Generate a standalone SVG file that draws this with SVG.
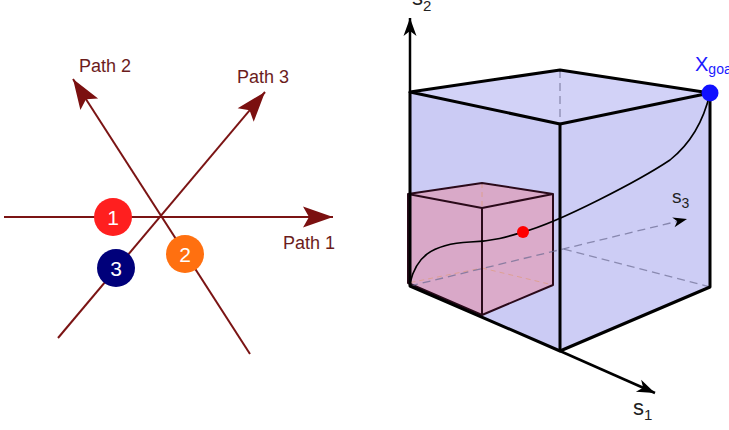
<svg xmlns="http://www.w3.org/2000/svg" width="729" height="430" viewBox="0 0 729 430">
<style>
.path{stroke:#7b1414;stroke-width:2;fill:none}
.plabel{font-family:"Liberation Sans",Arial,sans-serif;font-size:18px;fill:#6b1c1c}
.num{font-family:"Liberation Sans",Arial,sans-serif;font-size:21px;fill:#ffffff;text-anchor:middle}
.axis{stroke:#000;stroke-width:2.5;fill:none}
.edge{stroke:#000;stroke-width:3;fill:none;stroke-linejoin:round}
.pedge{stroke:#2a0a1a;stroke-width:2;fill:none;stroke-linejoin:round}
.hidden{stroke:#8a8ab0;stroke-width:1.3;stroke-dasharray:8 5;fill:none}
.phidden{stroke:#e09a70;stroke-width:1;stroke-dasharray:5 4;fill:none;opacity:0.6}
.slabel{font-family:"Liberation Sans",Arial,sans-serif;fill:#222}
</style>
<defs>
<marker id="redArrow" markerUnits="userSpaceOnUse" orient="auto" overflow="visible" markerWidth="30" markerHeight="22" refX="0" refY="0">
<path d="M0,0 L-30,-10.5 L-24,0 L-30,10.5 Z" fill="#7b1010"/>
</marker>
<marker id="blackArrow" markerUnits="userSpaceOnUse" orient="auto" overflow="visible" markerWidth="18" markerHeight="14" refX="0" refY="0">
<path d="M0,0 L-18,-6.5 L-13,0 L-18,6.5 Z" fill="#000"/>
</marker>
<marker id="smallArrow" markerUnits="userSpaceOnUse" orient="auto" overflow="visible" markerWidth="14" markerHeight="10" refX="0" refY="0">
<path d="M0,0 L-14,-5 L-10,0 L-14,5 Z" fill="#000"/>
</marker>
</defs>

<g id="connectors">
<line class="path" x1="4" y1="217" x2="333" y2="217" marker-end="url(#redArrow)"/>
<line class="path" x1="250" y1="354" x2="73" y2="79" marker-end="url(#redArrow)"/>
<line class="path" x1="58" y1="338" x2="265" y2="92" marker-end="url(#redArrow)"/>
</g>

<g id="label-path1"><text class="plabel" x="283" y="249">Path 1</text></g>
<g id="label-path2"><text class="plabel" x="79" y="72">Path 2</text></g>
<g id="label-path3"><text class="plabel" x="237" y="83">Path 3</text></g>

<g id="node-1"><circle cx="113" cy="217" r="19" fill="#ff1f1f"/><text class="num" x="113" y="224.5">1</text></g>
<g id="node-2"><circle cx="185" cy="254" r="19" fill="#ff7010"/><text class="num" x="185" y="261.5">2</text></g>
<g id="node-3"><circle cx="116" cy="268" r="19" fill="#00007a"/><text class="num" x="116" y="275.5">3</text></g>

<g id="big-cube">
<polygon points="410,92 560,70 710,93 560,124" fill="#d2d2f7"/>
<polygon points="410,92 560,124 560,351 410,286" fill="#cbcbf4"/>
<polygon points="560,124 710,93 710,287 560,351" fill="#cdcdf5"/>
<polyline class="hidden" points="560,70 560,248 710,287"/>
</g>

<g id="small-cube">
<polygon points="408,194 482,183 553,194 482,208" fill="#d9a9c8"/>
<polygon points="408,194 482,208 482,315 408,283" fill="#d9a8c8"/>
<polygon points="482,208 553,194 553,285 482,315" fill="#dbabca"/>
<polyline class="phidden" points="482,183 482,268 408,283"/>
<line class="phidden" x1="482" y1="268" x2="553" y2="285"/>
<polygon class="pedge" points="408,194 482,183 553,194 482,208"/>
<polyline class="pedge" points="482,208 482,315 553,285 553,194"/>
<polyline class="pedge" points="408,194 408,283 482,315"/>
</g>

<g id="axes">
<line x1="410" y1="286" x2="687" y2="219" stroke="#6a6a90" stroke-opacity="0.7" stroke-width="1.3" stroke-dasharray="8 5" marker-end="url(#smallArrow)"/>
<line class="axis" x1="410" y1="92" x2="410" y2="18" marker-end="url(#blackArrow)"/>
<line class="axis" x1="560" y1="351" x2="655" y2="393" marker-end="url(#blackArrow)"/>
</g>

<g id="big-cube-edges">
<polygon class="edge" points="410,92 560,70 710,93 560,124"/>
<polyline class="edge" points="410,92 410,286 560,351 710,287 710,93"/>
<line class="edge" x1="560" y1="124" x2="560" y2="351"/>
</g>

<g id="trajectory">
<path d="M410,283 C416,258 430,244 470,242 C495,241 510,236 523,232 C560,222 640,180 670,160 C695,140 705,115 710,93" stroke="#000" stroke-width="1.6" fill="none"/>
</g>

<g id="start-point"><circle cx="523" cy="232" r="6" fill="#ff0000"/></g>
<g id="goal-point"><circle cx="710" cy="93" r="8.5" fill="#1010ff"/>
<text x="695" y="71" font-family="Liberation Sans,Arial,sans-serif" font-size="20" fill="#1a1aff">X<tspan font-size="14" dy="3">goal</tspan></text></g>

<g id="label-s1"><text class="slabel" x="633" y="415" font-size="22">s<tspan font-size="15" dy="5">1</tspan></text></g>
<g id="label-s2"><text class="slabel" x="412" y="5" font-size="22">s<tspan font-size="15" dy="6">2</tspan></text></g>
<g id="label-s3"><text class="slabel" x="672" y="203" font-size="19">s<tspan font-size="14" dy="5">3</tspan></text></g>
</svg>
